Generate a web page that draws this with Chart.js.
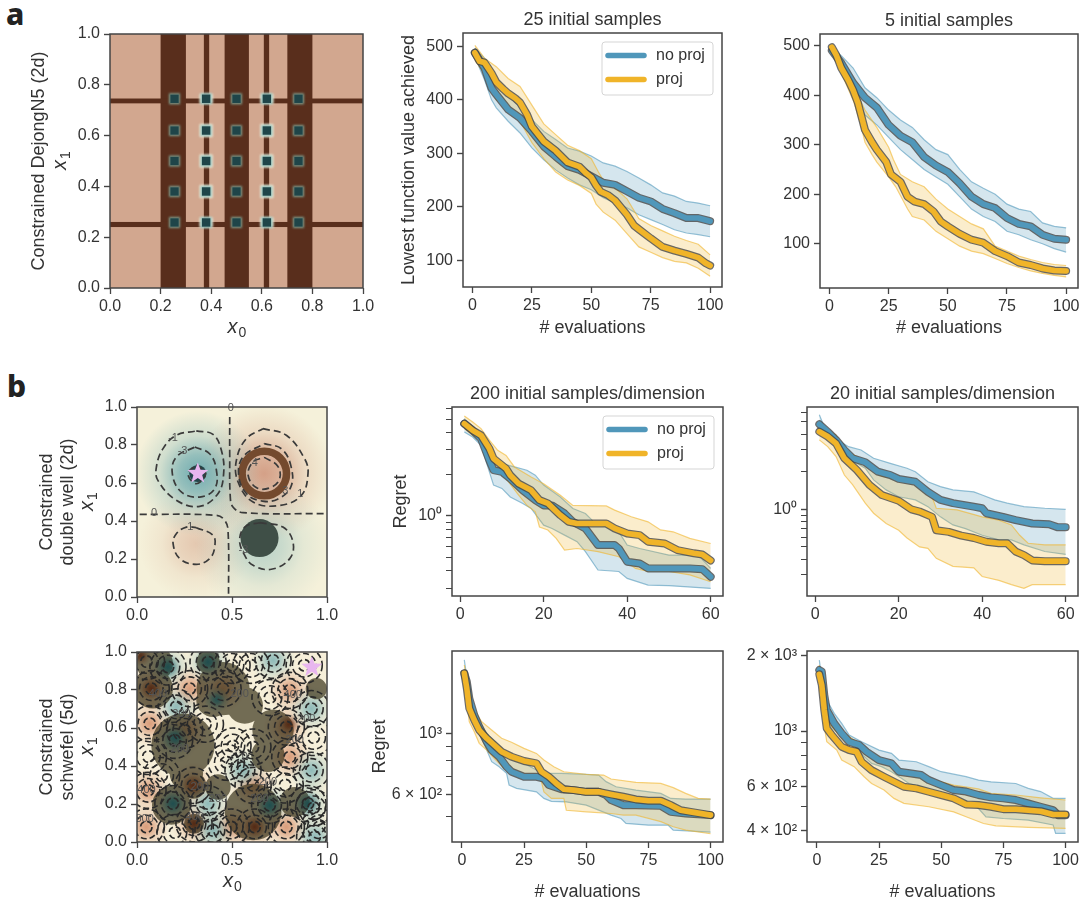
<!DOCTYPE html>
<html>
<head>
<meta charset="utf-8">
<script src="https://cdn.jsdelivr.net/npm/chart.js@4"></script>
<style>
  html, body { margin: 0; background: #fff; overflow: hidden; width: 1082px; height: 901px; }
  canvas { position: absolute; }
  .tag { position: absolute; font: 800 30px "Noto Sans", sans-serif; color: #222; line-height: 1; }
</style>
</head>
<body>
<div class="tag" style="left:6px;top:-1px">a</div>
<div class="tag" style="left:7px;top:371px">b</div>
<script>
// ---- line panels: [evaluation, value]
const seriesNames = ['no proj', 'proj'];

const a25BlueMean = [[1,488],[5,460],[8,422],[10,410],[15,382],[20,366],[25,341],[30,313],[35,294],[40,276],[45,269],[50,257],[55,245],[60,241],[65,229],[70,217],[75,210],[80,196],[85,188],[90,179],[95,179],[100,173]];
const a25BlueHi = [[1,497],[5,478],[10,438],[15,410],[20,385],[25,363],[30,341],[35,326],[40,310],[45,304],[50,295],[55,282],[60,276],[65,266],[70,254],[75,241],[80,226],[85,220],[90,210],[95,207],[100,202]];
const a25BlueLo = [[1,480],[5,438],[8,400],[10,385],[15,360],[20,338],[25,310],[30,288],[35,269],[40,254],[45,241],[50,232],[55,217],[60,207],[65,198],[70,185],[75,176],[80,167],[85,157],[90,151],[95,148],[100,144]];
const a25GoldMean = [[1,488],[3,472],[5,470],[8,450],[10,433],[13,420],[15,412],[18,403],[20,395],[23,372],[25,350],[30,322],[35,305],[40,283],[45,275],[48,262],[50,255],[52,240],[54,228],[57,222],[60,212],[65,185],[68,165],[70,158],[75,141],[80,125],[85,118],[90,112],[95,105],[98,95],[100,90]];
const a25GoldHi = [[1,502],[3,490],[5,478],[10,462],[15,440],[20,425],[25,390],[30,355],[35,335],[40,315],[45,305],[50,290],[53,265],[55,250],[60,235],[65,215],[70,178],[75,165],[80,155],[85,145],[90,137],[95,130],[100,110]];
const a25GoldLo = [[1,474],[5,450],[10,400],[15,385],[20,360],[25,320],[30,290],[35,265],[40,250],[45,240],[50,225],[52,205],[55,190],[60,175],[65,150],[70,125],[75,115],[80,105],[85,98],[90,95],[95,85],[100,70]];

const a5BlueMean = [[1,490],[5,465],[10,425],[15,395],[20,375],[25,340],[30,318],[35,305],[40,275],[45,258],[50,245],[55,222],[60,195],[65,180],[70,172],[75,152],[80,140],[85,135],[90,118],[95,110],[100,108]];
const a5BlueHi = [[1,495],[5,480],[10,455],[15,415],[20,395],[25,370],[30,350],[35,335],[40,310],[45,290],[50,280],[55,250],[60,225],[65,212],[70,200],[75,180],[80,170],[85,165],[90,142],[95,135],[100,132]];
const a5BlueLo = [[1,485],[5,450],[10,405],[15,360],[20,340],[25,315],[30,290],[35,270],[40,250],[45,235],[50,220],[55,195],[60,170],[65,155],[70,145],[75,125],[80,118],[85,108],[90,100],[95,90],[100,83]];
const a5GoldMean = [[1,497],[3,480],[5,455],[8,430],[10,410],[12,385],[15,330],[18,305],[20,290],[24,265],[26,240],[30,225],[33,195],[36,185],[40,180],[44,165],[47,145],[50,135],[55,120],[60,108],[65,102],[70,85],[75,75],[80,62],[85,57],[90,50],[95,46],[100,45]];
const a5GoldHi = [[1,500],[5,470],[10,420],[15,370],[20,335],[25,295],[27,270],[30,240],[35,225],[40,215],[45,190],[50,170],[55,155],[60,140],[65,130],[70,95],[75,85],[80,75],[85,68],[90,62],[95,58],[100,56]];
const a5GoldLo = [[1,493],[5,445],[10,390],[13,345],[15,305],[18,280],[20,265],[25,235],[28,215],[33,170],[35,155],[40,148],[45,125],[50,110],[55,95],[60,85],[65,80],[70,70],[75,60],[80,52],[85,45],[90,40],[95,36],[100,33]];

const well200BlueMean = [[1,4.65],[3,4.16],[5,3.62],[7,2.52],[8,2.14],[10,2.08],[12,1.86],[15,1.53],[18,1.30],[20,1.19],[22,1.19],[25,1.04],[27,0.905],[30,0.81],[33,0.614],[37,0.614],[38,0.58],[40,0.465],[43,0.452],[45,0.416],[50,0.416],[55,0.416],[58,0.411],[60,0.362]];
const well200BlueHi = [[1,5.06],[3,4.4],[5,3.93],[7,2.74],[10,2.39],[13,2.26],[16,2.14],[18,1.97],[20,1.67],[24,1.37],[27,1.13],[30,1.04],[32,0.905],[35,0.83],[38,0.766],[40,0.614],[43,0.58],[50,0.52],[57,0.52],[60,0.416]];
const well200BlueLo = [[1,4.05],[3,3.72],[5,3.24],[7,2.08],[8,1.67],[10,1.58],[12,1.37],[15,1.23],[17,1.13],[20,0.856],[22,0.81],[25,0.725],[28,0.65],[30,0.55],[33,0.405],[38,0.395],[40,0.352],[45,0.315],[50,0.312],[60,0.298]];
const well200GoldMean = [[1,4.65],[3,4.16],[5,3.83],[7,3.07],[8,2.6],[11,2.2],[12,1.97],[14,1.71],[17,1.53],[19,1.30],[21,1.23],[24,1.01],[26,0.905],[28,0.88],[35,0.88],[37,0.81],[40,0.745],[43,0.725],[45,0.65],[49,0.63],[52,0.565],[56,0.535],[58,0.525],[60,0.475]];
const well200GoldHi = [[1,5.28],[3,4.78],[5,4.28],[7,3.53],[9,2.98],[11,2.74],[13,2.26],[17,1.91],[20,1.71],[24,1.41],[27,1.19],[35,1.18],[37,1.1],[41,0.985],[45,0.905],[48,0.79],[51,0.766],[55,0.686],[60,0.63]];
const well200GoldLo = [[1,4.28],[3,3.83],[5,3.53],[7,2.6],[9,2.08],[11,1.86],[14,1.41],[16,1.19],[18,1.07],[19,0.83],[21,0.79],[23,0.686],[25,0.565],[28,0.58],[33,0.55],[38,0.505],[42,0.416],[45,0.395],[50,0.395],[55,0.373],[60,0.333]];

const well20BlueMean = [[1,4.79],[3,4.18],[5,3.59],[7,2.98],[9,2.56],[12,2.38],[15,2.0],[18,1.88],[20,1.75],[24,1.66],[27,1.38],[30,1.19],[33,1.12],[38,1.05],[40,1.02],[41,0.93],[45,0.87],[48,0.82],[52,0.77],[56,0.76],[58,0.72],[60,0.72]];
const well20BlueHi = [[1,5.7],[2,4.73],[4,4.05],[6,3.48],[8,3.17],[11,2.98],[14,2.56],[18,2.33],[22,2.13],[24,2.0],[27,1.66],[30,1.52],[33,1.43],[38,1.38],[40,1.3],[43,1.19],[46,1.12],[50,1.05],[55,1.02],[60,1.0]];
const well20BlueLo = [[1,4.05],[3,3.7],[5,3.17],[7,2.64],[10,2.33],[12,2.13],[14,1.72],[17,1.43],[20,1.26],[24,1.19],[27,1.05],[30,0.87],[33,0.75],[36,0.7],[40,0.62],[44,0.57],[47,0.57],[50,0.52],[55,0.46],[60,0.436]];
const well20GoldMean = [[1,4.18],[3,3.82],[5,3.37],[7,2.56],[10,2.06],[13,1.57],[16,1.30],[20,1.17],[23,1.0],[25,0.96],[28,0.87],[29,0.68],[32,0.66],[35,0.616],[38,0.59],[41,0.55],[44,0.535],[46,0.535],[48,0.46],[50,0.43],[52,0.39],[55,0.385],[60,0.385]];
const well20GoldHi = [[1,4.73],[3,4.3],[5,3.93],[7,2.98],[10,2.64],[13,2.19],[16,1.83],[20,1.77],[24,1.61],[26,1.52],[28,1.26],[29,1.02],[34,0.99],[40,0.87],[44,0.82],[47,0.75],[49,0.62],[51,0.535],[55,0.52],[60,0.52]];
const well20GoldLo = [[1,3.59],[3,3.17],[5,2.64],[7,1.88],[9,1.57],[12,1.12],[14,0.93],[17,0.77],[20,0.68],[22,0.59],[25,0.5],[27,0.487],[29,0.405],[33,0.35],[38,0.34],[40,0.29],[44,0.27],[47,0.25],[50,0.233],[52,0.25],[60,0.25]];

const sch200BlueMean = [[1,1661],[2,1549],[3,1347],[5,1170],[7,1060],[10,935],[12,871],[15,824],[18,757],[20,726],[25,696],[30,696],[33,686],[35,649],[40,627],[45,622],[50,613],[55,613],[58,596],[60,572],[65,548],[70,548],[80,545],[84,518],[90,511],[100,504]];
const sch200BlueHi = [[1,1860],[3,1385],[5,1204],[8,1076],[10,1003],[14,922],[20,812],[25,779],[30,737],[34,716],[40,716],[50,710],[55,706],[58,668],[62,640],[70,622],[80,605],[84,580],[90,577],[100,577]];
const sch200BlueLo = [[1,1570],[3,1291],[5,1138],[8,962],[10,871],[12,790],[15,757],[18,716],[19,649],[22,631],[30,613],[33,580],[36,566],[42,563],[50,548],[60,504],[64,490],[66,470],[75,463],[83,463],[85,444],[100,437]];
const sch200GoldMean = [[1,1661],[2,1465],[3,1238],[5,1122],[7,1031],[10,962],[13,909],[16,859],[20,824],[25,795],[30,779],[32,726],[35,696],[38,658],[41,627],[45,622],[50,613],[55,613],[60,600],[65,588],[70,575],[75,569],[80,569],[84,548],[88,525],[92,518],[100,504]];
const sch200GoldHi = [[1,1782],[3,1424],[5,1220],[8,1106],[12,1031],[16,962],[20,930],[25,884],[30,847],[33,801],[37,757],[41,726],[50,710],[57,706],[60,683],[70,664],[80,658],[85,635],[90,605],[95,580],[100,577]];
const sch200GoldLo = [[1,1549],[3,1106],[5,1017],[7,922],[10,871],[13,812],[17,747],[22,716],[30,696],[32,668],[33,613],[36,580],[41,580],[42,525],[50,518],[60,511],[65,504],[70,504],[80,477],[85,457],[90,444],[100,431]];

const sch20BlueMean = [[1,1757],[2,1730],[3,1394],[4,1214],[7,1073],[10,978],[13,906],[17,879],[20,826],[25,765],[30,742],[33,687],[38,676],[42,666],[45,636],[50,607],[55,580],[60,572],[65,554],[70,542],[75,537],[80,529],[85,513],[90,497],[95,482],[97,460],[100,460]];
const sch20BlueHi = [[1,1926],[2,1627],[3,1394],[4,1331],[7,1177],[10,1073],[13,964],[18,906],[25,839],[30,814],[33,765],[40,753],[45,720],[50,687],[60,656],[65,636],[70,626],[80,616],[85,589],[90,572],[95,537],[100,537]];
const sch20BlueLo = [[1,1702],[3,1271],[5,1057],[8,994],[13,935],[17,826],[22,742],[26,720],[30,687],[34,646],[37,616],[42,598],[50,563],[55,537],[60,521],[65,489],[68,453],[75,446],[85,439],[95,420],[96,389],[100,389]];
const sch20GoldMean = [[1,1688],[2,1529],[3,1214],[4,1025],[6,964],[10,865],[13,839],[16,826],[18,753],[22,697],[27,656],[31,626],[35,598],[40,589],[45,571],[50,554],[55,537],[60,508],[65,505],[70,497],[75,486],[80,486],[90,477],[95,463],[100,463]];
const sch20GoldHi = [[1,1840],[3,1311],[5,1073],[8,994],[12,964],[16,906],[20,839],[25,789],[30,730],[35,676],[40,656],[50,626],[55,607],[65,586],[70,563],[80,554],[90,540],[100,529]];
const sch20GoldLo = [[1,1577],[3,1041],[4,906],[8,839],[10,765],[15,720],[19,656],[22,616],[27,580],[31,537],[35,513],[45,497],[55,474],[60,453],[67,426],[72,417],[85,411],[100,407]];

// ---- tick labels
const unitTicks = [0, 0.2, 0.4, 0.6, 0.8, 1];
const halfTicks = [0, 0.5, 1];
const evalTicks = [0, 25, 50, 75, 100];
const shortEvalTicks = [0, 20, 40, 60];
const a25YTicks = [100, 200, 300, 400, 500];
const well200YTicks = [0.3, 0.4, 0.5, 0.6, 0.7, 0.8, 0.9, 1, 2, 3, 4, 5, 6];
const well200YLabels = ['', '', '', '', '', '', '', '10⁰', '', '', '', '', ''];
const well20YTicks = [0.3, 0.4, 0.5, 0.6, 0.7, 0.8, 0.9, 1, 2, 3, 4, 5, 6];
const well20YLabels = ['', '', '', '', '', '', '', '10⁰', '', '', '', '', ''];
const sch200YTicks = [500, 600, 700, 800, 900, 1000];
const sch200YLabels = ['', '6 × 10²', '', '', '', '10³'];
const sch20YTicks = [400, 500, 600, 700, 800, 900, 1000, 2000];
const sch20YLabels = ['4 × 10²', '', '6 × 10²', '', '', '', '10³', '2 × 10³'];

// ---- DejongN5 field
const dejongBandsX = [[0.2,0.3],[0.371,0.392],[0.453,0.549],[0.608,0.629],[0.701,0.8]];
const dejongBandsY = [[0.24,0.26],[0.727,0.746]];
const dejongWellsX = [0.255, 0.38, 0.5, 0.62, 0.745];
const dejongWellsY = [0.258, 0.38, 0.5, 0.62, 0.745];

// ---- double well field: [x, y, radius]
const wellWarm = [[0.67,0.65,0.36],[0.31,0.28,0.3]];
const wellCool = [[0.32,0.65,0.33],[0.66,0.27,0.36]];
const wellDisc = [0.645, 0.31, 0.1];
const wellRing = [0.67, 0.65, 0.117];
const wellStar = [0.32, 0.65];
const wellContours = [
  [[0.312,0.874],[0.4,0.856],[0.444,0.772],[0.456,0.649],[0.426,0.544],[0.33,0.477],[0.207,0.509],[0.11,0.614],[0.102,0.684],[0.137,0.781],[0.207,0.851],[0.312,0.874]],
  [[0.304,0.789],[0.382,0.754],[0.418,0.667],[0.409,0.57],[0.33,0.526],[0.233,0.553],[0.186,0.649],[0.207,0.737],[0.304,0.789]],
  [[0.312,0.696],[0.361,0.649],[0.312,0.596],[0.268,0.649],[0.312,0.696]],
  [[0.663,0.886],[0.786,0.851],[0.882,0.728],[0.9,0.649],[0.865,0.535],[0.751,0.482],[0.611,0.5],[0.532,0.605],[0.523,0.719],[0.575,0.833],[0.663,0.886]],
  [[0.67,0.807],[0.76,0.78],[0.81,0.69],[0.81,0.58],[0.74,0.515],[0.66,0.505],[0.58,0.54],[0.535,0.64],[0.56,0.74],[0.67,0.807]],
  [[0.67,0.735],[0.74,0.69],[0.75,0.62],[0.7,0.575],[0.63,0.575],[0.585,0.64],[0.61,0.71],[0.67,0.735]],
  [[0.488,0.947],[0.488,0.754],[0.491,0.526],[0.505,0.474],[0.558,0.444],[0.996,0.439]],
  [[0.014,0.435],[0.418,0.43],[0.461,0.404],[0.479,0.351],[0.482,0]],
  [[0.312,0.365],[0.4,0.325],[0.409,0.263],[0.382,0.202],[0.312,0.172],[0.225,0.202],[0.19,0.281],[0.207,0.333],[0.26,0.368],[0.312,0.365]],
  [[0.646,0.391],[0.768,0.368],[0.821,0.289],[0.804,0.202],[0.707,0.146],[0.611,0.167],[0.567,0.219],[0.54,0.3],[0.57,0.37],[0.646,0.391]]
];
const wellLabels = [['0',0.494,0.995],['-1',0.19,0.835],['-3',0.24,0.77],['0',0.09,0.44],['1',0.28,0.37],['4',0.62,0.705],['3',0.78,0.56],['1',0.86,0.54],['-3',0.56,0.25]];

// ---- schwefel field
const schWarm = [[0.075,0.807],[0.277,0.807],[0.067,0.623],[0.058,0.272],[0.804,0.798],[0.786,0.079],[0.049,0.079],[0.804,0.447],[0.295,0.298],[0.453,0.807],[0.619,0.079],[0.3,0.096],[0.786,0.605],[0.251,0.588],[0.611,0.298],[0.496,0.079]];
const schCool = [[0.163,0.921],[0.374,0.947],[0.207,0.711],[0.918,0.702],[0.918,0.377],[0.716,0.956],[0.374,0.202],[0.189,0.202],[0.9,0.202],[0.698,0.193],[0.198,0.535],[0.4,0.061],[0.935,0.026],[0.558,0.377]];
const schDarkBrown = [[0.075,0.807],[0.295,0.298],[0.619,0.079],[0.3,0.096],[0.02,0.98],[0.8,0.62]];
const schDarkTeal = [[0.163,0.921],[0.374,0.947],[0.189,0.202],[0.9,0.202],[0.698,0.193],[0.2,0.55],[0.42,0.75]];
const schDiscs = [[0.084,0.807,0.105],[0.093,0.939,0.096],[0.374,0.947,0.061],[0.453,0.807,0.14],[0.4,0.746,0.088],[0.567,0.719,0.096],[0.716,0.588,0.109],[0.689,0.456,0.088],[0.242,0.509,0.167],[0.26,0.36,0.088],[0.295,0.298,0.07],[0.426,0.289,0.067],[0.181,0.193,0.102],[0.3,0.096,0.053],[0.611,0.158,0.149],[0.83,0.211,0.079],[0.944,0.807,0.056]];
const schExtraRings = [[0.505,0.505],[0.6,0.93],[0.88,0.93],[0.93,0.55],[0.06,0.45],[0.5,0.93],[0.7,0.76],[0.61,0.5],[0.36,0.62],[0.96,0.08],[0.78,0.3],[0.93,0.18],[0.13,0.35],[0.05,0.95],[0.47,0.42],[0.2,0.05]];
const schStar = [0.92, 0.92];
const schLabels = [['200',0.54,0.78],['200',0.225,0.49],['400',0.11,0.78],['200',0.234,0.675],['200',0.33,0.29],['200',0.426,0.228],['200',0.645,0.228],['400',0.82,0.772],['0',0.567,0.447],['400',0.304,0.13],['200',0.689,0.316],['200',0.83,0.535],['200',0.891,0.649],['800',0.04,0.123],['400',0.05,0.272]];

// ---- colours
const BLUE = '80,151,186';
const GOLD = '240,180,41';
const INK = '#333';
const FONT = '"Liberation Sans", Arial, sans-serif';

const toPts = list => list.map(p => ({x: p[0], y: p[1]}));

function bandAndLine(mean, lo, hi, rgb, baseOrder) {
  return {
    bands: [
      {data: toPts(lo), borderColor: `rgba(${rgb},.6)`, borderWidth: 1.2, fill: false},
      {data: toPts(hi), borderColor: `rgba(${rgb},.6)`, borderWidth: 1.2, fill: '-1', backgroundColor: `rgba(${rgb},.24)`}
    ],
    lines: [
      {data: toPts(mean), borderColor: 'rgba(70,70,70,.8)', borderWidth: 8, order: baseOrder + 1, borderCapStyle: 'round', borderJoinStyle: 'round'},
      {data: toPts(mean), borderColor: `rgb(${rgb})`, borderWidth: 5.6, order: baseOrder, borderCapStyle: 'round', borderJoinStyle: 'round'}
    ]
  };
}

const framePlugin = {
  id: 'frame',
  afterDraw(chart) {
    const {ctx, chartArea: a} = chart;
    ctx.save();
    ctx.strokeStyle = '#444';
    ctx.lineWidth = 1.5;
    ctx.strokeRect(a.left, a.top, a.right - a.left, a.bottom - a.top);
    ctx.restore();
  }
};

function legendPlugin() {
  return {
    id: 'insideLegend',
    afterDatasetsDraw(chart) {
      const {ctx, chartArea: a} = chart;
      const bx = a.right - 120, by = a.top + 9;
      ctx.save();
      ctx.fillStyle = 'rgba(255,255,255,.85)';
      ctx.strokeStyle = '#d5d5d5';
      ctx.lineWidth = 1;
      ctx.beginPath();
      ctx.roundRect(bx, by, 111, 53, 3);
      ctx.fill();
      ctx.stroke();
      [BLUE, GOLD].forEach((rgb, i) => {
        const y = by + 13.5 + i * 24;
        ctx.strokeStyle = `rgb(${rgb})`;
        ctx.lineWidth = 5.5;
        ctx.lineCap = 'round';
        ctx.beginPath();
        ctx.moveTo(bx + 6, y);
        ctx.lineTo(bx + 42, y);
        ctx.stroke();
        ctx.fillStyle = INK;
        ctx.font = '16px ' + FONT;
        ctx.textBaseline = 'middle';
        ctx.fillText(seriesNames[i], bx + 54, y);
      });
      ctx.restore();
    }
  };
}

// x with a subscript, for the heat map axes; the axis title cannot mix sizes
function subLabels(xDrop, yShift) {
  const put = (ctx, sub) => {
    ctx.textBaseline = 'alphabetic';
    ctx.fillStyle = INK;
    ctx.font = 'italic 20px ' + FONT;
    ctx.fillText('x', -9, 5);
    ctx.font = '14px ' + FONT;
    ctx.fillText(sub, 2, 9);
  };
  return {
    id: 'subLabels',
    afterDraw(chart) {
      const {ctx, chartArea: a} = chart;
      if (xDrop) {
        ctx.save();
        ctx.translate((a.left + a.right) / 2, a.bottom + xDrop);
        put(ctx, '0');
        ctx.restore();
      }
      ctx.save();
      ctx.translate(a.left - yShift, (a.top + a.bottom) / 2);
      ctx.rotate(-Math.PI / 2);
      put(ctx, '1');
      ctx.restore();
    }
  };
}

function blob(ctx, x, y, r, rgb, alpha) {
  const g = ctx.createRadialGradient(x, y, 0, x, y, r);
  g.addColorStop(0, `rgba(${rgb},${alpha})`);
  g.addColorStop(0.3, `rgba(${rgb},${alpha * 0.72})`);
  g.addColorStop(0.6, `rgba(${rgb},${alpha * 0.28})`);
  g.addColorStop(1, `rgba(${rgb},0)`);
  ctx.fillStyle = g;
  ctx.fillRect(x - r, y - r, 2 * r, 2 * r);
}

function star(ctx, cx, cy, r) {
  ctx.fillStyle = '#e8b6ef';
  ctx.beginPath();
  for (let i = 0; i < 10; i++) {
    const rad = i % 2 ? r * 0.42 : r;
    const ang = -Math.PI / 2 + i * Math.PI / 5;
    ctx.lineTo(cx + rad * Math.cos(ang), cy + rad * Math.sin(ang));
  }
  ctx.closePath();
  ctx.fill();
}

function fieldLabels(ctx, sx, sy, list) {
  ctx.font = '11px ' + FONT;
  ctx.fillStyle = '#555';
  ctx.textAlign = 'center';
  ctx.textBaseline = 'middle';
  list.forEach(l => ctx.fillText(l[0], sx.getPixelForValue(l[1]), sy.getPixelForValue(l[2])));
}

const dejongField = {
  id: 'dejongField',
  beforeDatasetsDraw(chart) {
    const {ctx, chartArea: a, scales: {x: sx, y: sy}} = chart;
    ctx.save();
    ctx.fillStyle = '#d2a78f';
    ctx.fillRect(a.left, a.top, a.right - a.left, a.bottom - a.top);
    ctx.fillStyle = '#592e1c';
    dejongBandsX.forEach(b => {
      const p0 = sx.getPixelForValue(b[0]), p1 = sx.getPixelForValue(b[1]);
      ctx.fillRect(p0, a.top, p1 - p0, a.bottom - a.top);
    });
    dejongBandsY.forEach(b => {
      const p0 = sy.getPixelForValue(b[1]), p1 = sy.getPixelForValue(b[0]);
      ctx.fillRect(a.left, p0, a.right - a.left, p1 - p0);
    });
    dejongWellsX.forEach((wx, i) => {
      const onLight = i === 1 || i === 3;
      dejongWellsY.forEach(wy => {
        const px = sx.getPixelForValue(wx), py = sy.getPixelForValue(wy);
        const edge = wy < 0.3 || wy > 0.7;
        ctx.save();
        ctx.filter = 'blur(1.3px)';
        if (onLight) {
          ctx.fillStyle = '#f3f2de';
          ctx.fillRect(px - 6.5, py - (edge ? 5 : 6.5), 13, edge ? 10 : 13);
        }
        ctx.fillStyle = onLight ? '#8fbdb8' : '#7d9a8a';
        ctx.fillRect(px - 5.5, py - 5.5, 11, 11);
        ctx.restore();
        ctx.save();
        ctx.filter = 'blur(0.6px)';
        ctx.fillStyle = '#1f4549';
        ctx.fillRect(px - 4.2, py - 4.2, 8.4, 8.4);
        ctx.restore();
      });
    });
    ctx.restore();
  }
};

const wellField = {
  id: 'wellField',
  beforeDatasetsDraw(chart) {
    const {ctx, chartArea: a, scales: {x: sx, y: sy}} = chart;
    const unit = sx.getPixelForValue(1) - sx.getPixelForValue(0);
    ctx.save();
    ctx.beginPath();
    ctx.rect(a.left, a.top, a.right - a.left, a.bottom - a.top);
    ctx.clip();
    ctx.fillStyle = '#f5f1da';
    ctx.fillRect(a.left, a.top, a.right - a.left, a.bottom - a.top);
    wellWarm.forEach((b, i) => blob(ctx, sx.getPixelForValue(b[0]), sy.getPixelForValue(b[1]), b[2] * unit, '212,160,135', i ? 0.5 : 1));
    wellCool.forEach((b, i) => blob(ctx, sx.getPixelForValue(b[0]), sy.getPixelForValue(b[1]), b[2] * unit, '112,172,176', i ? 0.45 : 1));
    ctx.strokeStyle = '#744a2e';
    ctx.lineWidth = 0.04 * unit;
    ctx.beginPath();
    ctx.arc(sx.getPixelForValue(wellRing[0]), sy.getPixelForValue(wellRing[1]), wellRing[2] * unit, 0, 2 * Math.PI);
    ctx.stroke();
    ctx.fillStyle = '#3f4f47';
    ctx.beginPath();
    ctx.arc(sx.getPixelForValue(wellDisc[0]), sy.getPixelForValue(wellDisc[1]), wellDisc[2] * unit, 0, 2 * Math.PI);
    ctx.fill();
    ctx.fillStyle = '#23454a';
    ctx.beginPath();
    ctx.arc(sx.getPixelForValue(wellStar[0]), sy.getPixelForValue(wellStar[1]), 0.045 * unit, 0, 2 * Math.PI);
    ctx.fill();
    ctx.restore();
  },
  afterDatasetsDraw(chart) {
    const {ctx, scales: {x: sx, y: sy}} = chart;
    ctx.save();
    fieldLabels(ctx, sx, sy, wellLabels);
    star(ctx, sx.getPixelForValue(wellStar[0]), sy.getPixelForValue(wellStar[1]), 11);
    ctx.restore();
  }
};

const schField = {
  id: 'schField',
  beforeDatasetsDraw(chart) {
    const {ctx, chartArea: a, scales: {x: sx, y: sy}} = chart;
    const unit = sx.getPixelForValue(1) - sx.getPixelForValue(0);
    const px = v => sx.getPixelForValue(v), py = v => sy.getPixelForValue(v);
    ctx.save();
    ctx.beginPath();
    ctx.rect(a.left, a.top, a.right - a.left, a.bottom - a.top);
    ctx.clip();
    ctx.fillStyle = '#f6efd9';
    ctx.fillRect(a.left, a.top, a.right - a.left, a.bottom - a.top);
    schWarm.forEach(b => blob(ctx, px(b[0]), py(b[1]), 0.12 * unit, '208,130,92', 0.75));
    schCool.forEach(b => blob(ctx, px(b[0]), py(b[1]), 0.12 * unit, '100,165,172', 0.7));
    // discs are one path so overlaps do not darken twice
    ctx.fillStyle = 'rgba(45,40,15,.66)';
    ctx.beginPath();
    schDiscs.forEach(d => {
      ctx.moveTo(px(d[0]) + d[2] * unit, py(d[1]));
      ctx.arc(px(d[0]), py(d[1]), d[2] * unit, 0, 2 * Math.PI);
    });
    ctx.fill();
    schDarkBrown.forEach(b => blob(ctx, px(b[0]), py(b[1]), 0.055 * unit, '80,35,15', 0.85));
    schDarkTeal.forEach(b => blob(ctx, px(b[0]), py(b[1]), 0.07 * unit, '20,75,80', 0.8));
    ctx.strokeStyle = '#2a2a2a';
    ctx.lineWidth = 1.6;
    ctx.setLineDash([6, 3]);
    schWarm.concat(schCool, schExtraRings).forEach(c => {
      [0.03, 0.062, 0.095].forEach(r => {
        ctx.beginPath();
        ctx.arc(px(c[0]), py(c[1]), r * unit, 0, 2 * Math.PI);
        ctx.stroke();
      });
    });
    ctx.setLineDash([]);
    fieldLabels(ctx, sx, sy, schLabels);
    star(ctx, px(schStar[0]), py(schStar[1]), 11);
    ctx.restore();
  }
};

// one canvas per panel; p = plot rectangle, boxL = left of the y title, boxB = bottom of the canvas
function addPanel(cfg) {
  const {p, boxL, boxB, title} = cfg;
  const topGap = title ? 23 : 14;
  const cv = document.createElement('canvas');
  const w = p.r - boxL + 22, h = boxB - p.t + topGap;
  cv.width = w;
  cv.height = h;
  cv.style.left = boxL + 'px';
  cv.style.top = (p.t - topGap) + 'px';
  cv.style.width = w + 'px';
  cv.style.height = h + 'px';
  document.body.appendChild(cv);

  const yLabels = cfg.yLabels;
  new Chart(cv, {
    type: 'line',
    data: {datasets: cfg.datasets},
    options: {
      responsive: false,
      animation: false,
      events: [],
      elements: {point: {radius: 0}, line: {tension: cfg.tension || 0}},
      layout: {padding: {left: 0, right: 22, top: title ? 0 : 14, bottom: 0}},
      plugins: {
        legend: {display: false},
        tooltip: {enabled: false},
        title: {
          display: !!title,
          text: title,
          fullSize: false,
          color: INK,
          font: {family: FONT, size: 18, weight: 'normal', lineHeight: 20 / 18},
          padding: {top: 0, bottom: 3}
        }
      },
      scales: {
        x: {
          type: 'linear',
          min: cfg.xMin,
          max: cfg.xMax,
          afterBuildTicks: s => { s.ticks = cfg.xTicks.map(v => ({value: v})); },
          afterFit: s => { s.height = boxB - p.b; },
          border: {display: false},
          grid: {drawOnChartArea: false, tickLength: 6, tickColor: '#444', tickWidth: 1.3},
          ticks: {
            autoSkip: false, maxRotation: 0, padding: 3, color: INK,
            font: {family: FONT, size: 16},
            callback: cfg.xFmt || (v => String(v))
          },
          title: {
            display: !!cfg.xTitle,
            text: cfg.xTitle,
            color: INK,
            font: {family: FONT, size: 18, lineHeight: 20 / 18},
            padding: {top: 0, bottom: 0}
          }
        },
        y: {
          type: cfg.log ? 'logarithmic' : 'linear',
          min: cfg.yMin,
          max: cfg.yMax,
          afterBuildTicks: s => { s.ticks = cfg.yTicks.map(v => ({value: v})); },
          afterFit: s => { s.width = p.l - boxL; },
          border: {display: false},
          grid: {
            drawOnChartArea: false, tickLength: 6, tickColor: '#444',
            tickWidth: c => (yLabels && !yLabels[c.index] ? 1 : 1.4)
          },
          ticks: {
            autoSkip: false, maxRotation: 0, padding: 4, color: INK,
            font: {family: FONT, size: 16},
            callback: yLabels ? ((v, i) => yLabels[i]) : (cfg.yFmt || (v => String(v)))
          },
          title: {
            display: !!cfg.yTitle,
            text: cfg.yTitle,
            color: INK,
            font: {family: FONT, size: 18, lineHeight: (cfg.yLh || 20) / 18},
            padding: {top: 0, bottom: 0}
          }
        }
      }
    },
    plugins: (cfg.plugins || []).concat(framePlugin)
  });
}

function curvePanel(cfg, s) {
  const blue = bandAndLine(s[0], s[1], s[2], BLUE, 2);
  const gold = bandAndLine(s[3], s[4], s[5], GOLD, 0);
  // bands sit under all of the thick lines
  blue.bands.forEach(d => { d.order = 11; });
  gold.bands.forEach(d => { d.order = 10; });
  cfg.datasets = blue.bands.concat(gold.bands, blue.lines, gold.lines);
  addPanel(cfg);
}

const oneDec = v => v.toFixed(1);

// panel a, left
addPanel({
  p: {l: 110, r: 363, t: 34, b: 288}, boxL: 28, boxB: 338,
  xMin: 0, xMax: 1, yMin: 0, yMax: 1, xTicks: unitTicks, yTicks: unitTicks, xFmt: oneDec, yFmt: oneDec,
  yTitle: 'Constrained DejongN5 (2d)', yLh: 22,
  datasets: [], plugins: [dejongField, subLabels(40, 49)]
});

curvePanel({
  p: {l: 463, r: 722, t: 33, b: 287}, boxL: 399, boxB: 338, title: '25 initial samples',
  xMin: -4, xMax: 105, yMin: 50, yMax: 525, xTicks: evalTicks, yTicks: a25YTicks,
  xTitle: '# evaluations', yTitle: 'Lowest function value achieved', plugins: [legendPlugin()]
}, [a25BlueMean, a25BlueLo, a25BlueHi, a25GoldMean, a25GoldLo, a25GoldHi]);

curvePanel({
  p: {l: 820, r: 1078, t: 34, b: 288}, boxL: 780, boxB: 338, title: '5 initial samples',
  xMin: -4, xMax: 105, yMin: 10.5, yMax: 523.7, xTicks: evalTicks, yTicks: a25YTicks,
  xTitle: '# evaluations'
}, [a5BlueMean, a5BlueLo, a5BlueHi, a5GoldMean, a5GoldLo, a5GoldHi]);

// panel b, first row
addPanel({
  p: {l: 137, r: 327, t: 407, b: 597}, boxL: 37, boxB: 628,
  xMin: 0, xMax: 1, yMin: 0, yMax: 1, xTicks: halfTicks, yTicks: unitTicks, xFmt: oneDec, yFmt: oneDec,
  yTitle: ['Constrained', 'double well (2d)'], yLh: 20.5,
  tension: 0.4,
  datasets: wellContours.map(c => ({data: toPts(c), borderColor: '#3a3a3a', borderWidth: 1.7, borderDash: [7, 4], fill: false})),
  plugins: [wellField, subLabels(0, 49)]
});

curvePanel({
  p: {l: 452, r: 723, t: 407, b: 596}, boxL: 391, boxB: 628, title: '200 initial samples/dimension', log: true,
  xMin: -1.95, xMax: 62.95, yMin: 0.2626, yMax: 6.14, xTicks: shortEvalTicks, yTicks: well200YTicks, yLabels: well200YLabels,
  yTitle: 'Regret', plugins: [legendPlugin()]
}, [well200BlueMean, well200BlueLo, well200BlueHi, well200GoldMean, well200GoldLo, well200GoldHi]);

curvePanel({
  p: {l: 807, r: 1078, t: 407, b: 596}, boxL: 760, boxB: 628, title: '20 initial samples/dimension', log: true,
  xMin: -1.95, xMax: 62.95, yMin: 0.2026, yMax: 6.58, xTicks: shortEvalTicks, yTicks: well20YTicks, yLabels: well20YLabels
}, [well20BlueMean, well20BlueLo, well20BlueHi, well20GoldMean, well20GoldLo, well20GoldHi]);

// panel b, second row
addPanel({
  p: {l: 137, r: 327, t: 652, b: 842}, boxL: 37, boxB: 892,
  xMin: 0, xMax: 1, yMin: 0, yMax: 1, xTicks: halfTicks, yTicks: unitTicks, xFmt: oneDec, yFmt: oneDec,
  yTitle: ['Constrained', 'schwefel (5d)'], yLh: 20.5,
  datasets: [], plugins: [schField, subLabels(40, 49)]
});

curvePanel({
  p: {l: 452, r: 723, t: 651, b: 842}, boxL: 370, boxB: 902, log: true,
  xMin: -3.95, xMax: 105, yMin: 402, yMax: 2005, xTicks: evalTicks, yTicks: sch200YTicks, yLabels: sch200YLabels,
  xTitle: '# evaluations', yTitle: 'Regret'
}, [sch200BlueMean, sch200BlueLo, sch200BlueHi, sch200GoldMean, sch200GoldLo, sch200GoldHi]);

curvePanel({
  p: {l: 807, r: 1078, t: 651, b: 842}, boxL: 745, boxB: 902, log: true,
  xMin: -3.95, xMax: 105, yMin: 359, yMax: 2094, xTicks: evalTicks, yTicks: sch20YTicks, yLabels: sch20YLabels,
  xTitle: '# evaluations'
}, [sch20BlueMean, sch20BlueLo, sch20BlueHi, sch20GoldMean, sch20GoldLo, sch20GoldHi]);
</script>
</body>
</html>
